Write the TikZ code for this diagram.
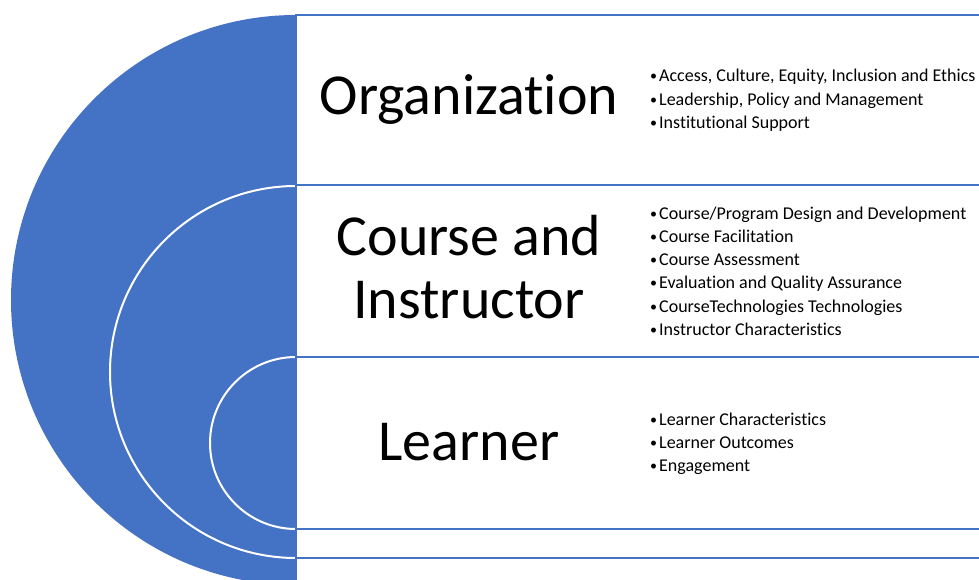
\documentclass[tikz,border=0pt]{standalone}
\usepackage{fontspec}
\setmainfont{Carlito}[RawFeature={-liga;-clig;-calt;-dlig}]
\definecolor{segblue}{HTML}{4472C4}
\newcommand{\bulletmark}{\makebox[9pt][l]{\raisebox{1pt}{\fontsize{14}{14}\selectfont•}}}
\begin{document}
\begin{tikzpicture}[x=1pt,y=-1pt,
    rowbox/.style={draw=segblue,line width=2pt,fill=white,anchor=north west,
      minimum width=720pt,inner sep=0pt,outer sep=0pt},
    title/.style={font=\fontsize{58}{63}\selectfont,align=center,anchor=base},
    item/.style={font=\fontsize{18}{23}\selectfont,anchor=base west,inner sep=0pt}]
  \useasboundingbox (0,0) rectangle (979,580);
  \clip (0,0) rectangle (979,580);
  % half disc with the two inner rings
  \fill[segblue] (296,15) arc[start angle=90,end angle=270,radius=285pt] -- cycle;
  \draw[white,line width=2pt] (296,186) arc[start angle=90,end angle=270,radius=186pt];
  \draw[white,line width=2pt] (296,357) arc[start angle=90,end angle=270,radius=86pt];
  % rows
  \node[rowbox,minimum height=170pt] (orgbox) at (296,15) {};
  \node[rowbox,minimum height=172pt] (coursebox) at (orgbox.south west) {};
  \node[rowbox,minimum height=172pt] (learnerbox) at (coursebox.south west) {};
  \node[rowbox,minimum height=29pt] (gapbox) at (learnerbox.south west) {};
  \node[rowbox,minimum height=60pt] (lastbox) at (gapbox.south west) {};
  % titles
  \node[title] (org) at (469,115) {Organization};
  \node[title] (course) at (469,318) {Course and\\Instructor};
  \node[title] (learner) at (469,460) {Learner};
  % bullet lists
  \foreach \txt [count=\i] in {{Access, Culture, Equity, Inclusion and Ethics},
      {Leadership, Policy and Management},Institutional Support}
    \node[item] (org-\i) at (650,{82+(\i-1)*23.3}) {\bulletmark\txt};
  \foreach \txt [count=\i] in {Course/Program Design and Development,
      Course Facilitation,Course Assessment,Evaluation and Quality Assurance,
      CourseTechnologies Technologies,Instructor Characteristics}
    \node[item] (course-\i) at (650,{219+(\i-1)*23.3}) {\bulletmark\txt};
  \foreach \txt [count=\i] in {Learner Characteristics,Learner Outcomes,Engagement}
    \node[item] (learner-\i) at (650,{425+(\i-1)*23.3}) {\bulletmark\txt};
\end{tikzpicture}
\end{document}
